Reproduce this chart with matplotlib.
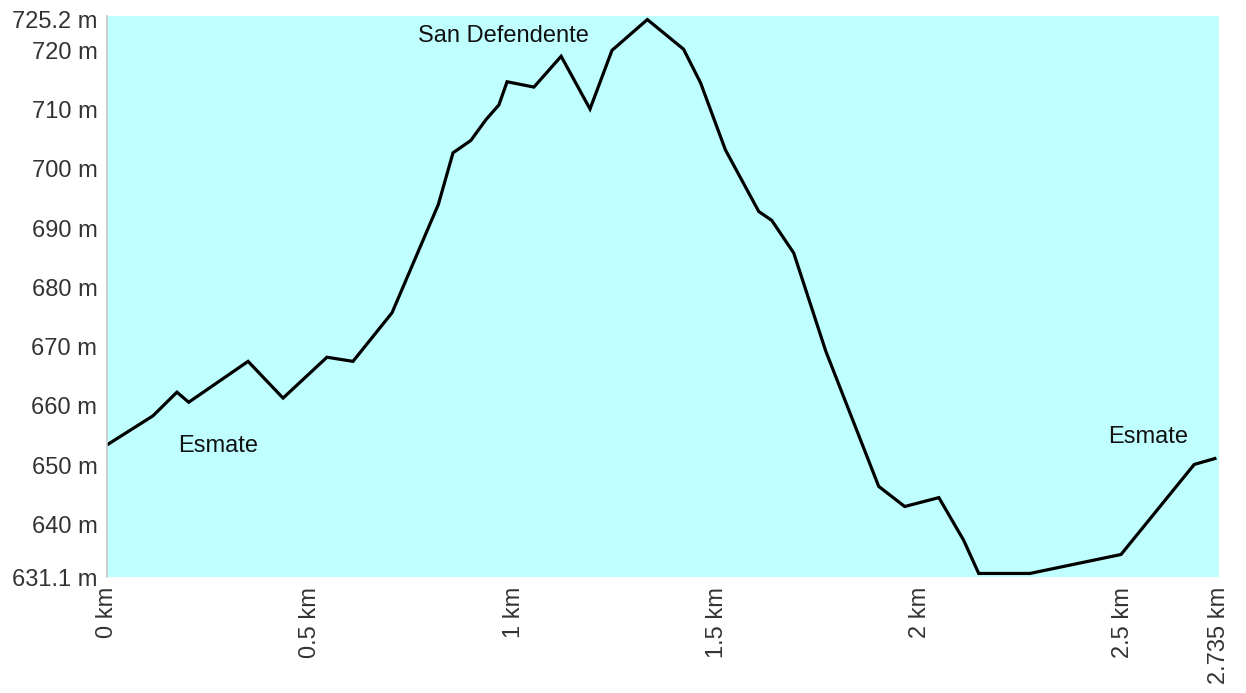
import matplotlib.pyplot as plt

plt.rcParams['font.family'] = ['Liberation Sans', 'DejaVu Sans']

distance_km = [0, 0.113, 0.172, 0.201, 0.347, 0.433, 0.541, 0.605, 0.701, 0.815, 0.851,
               0.895, 0.932, 0.964, 0.984, 1.050, 1.117, 1.188, 1.242, 1.329, 1.418,
               1.460, 1.521, 1.603, 1.635, 1.689, 1.768, 1.898, 1.962, 2.046, 2.107,
               2.144, 2.270, 2.494, 2.674, 2.725]
elevation_m = [653.4, 658.3, 662.3, 660.6, 667.5, 661.3, 668.2, 667.5, 675.7, 694.0, 702.7,
               704.8, 708.3, 710.8, 714.7, 713.8, 719.0, 710.1, 720.0, 725.2, 720.2,
               714.5, 703.2, 692.8, 691.3, 685.8, 669.2, 646.4, 643.0, 644.5, 637.3,
               631.7, 631.7, 634.9, 650.1, 651.1]

y_ticks = [631.1, 640, 650, 660, 670, 680, 690, 700, 710, 720, 725.2]
y_labels = ['631.1 m', '640 m', '650 m', '660 m', '670 m', '680 m', '690 m',
            '700 m', '710 m', '720 m', '725.2 m']
x_ticks = [0, 0.5, 1, 1.5, 2, 2.5, 2.735]
x_labels = ['0 km', '0.5 km', '1 km', '1.5 km', '2 km', '2.5 km', '2.735 km']

place_names = ['Esmate', 'San Defendente', 'Esmate']
place_x = [0.175, 0.765, 2.462]
place_y = [653.2, 722.4, 654.8]

fig = plt.figure(figsize=(12.46, 6.93), dpi=100)
ax = fig.add_axes([107 / 1246, 1 - 577 / 693, 1112 / 1246, 561 / 693])
ax.set_facecolor('#bfffff')

ax.plot(distance_km, elevation_m, color='black', lw=2.3, solid_joinstyle='miter')

for name, px, py in zip(place_names, place_x, place_y):
    ax.text(px, py, name, ha='left', va='center', fontsize=17, color='#111111')

ax.set_xlim(0, 2.735)
ax.set_ylim(631.1, 725.8)
ax.set_xticks(x_ticks)
ax.set_xticklabels(x_labels, rotation=90)
ax.set_yticks(y_ticks)
ax.set_yticklabels(y_labels)
ax.tick_params(length=0, labelsize=17, labelcolor='#333333', pad=7)

for s in ['top', 'right', 'bottom']:
    ax.spines[s].set_visible(False)
ax.spines['left'].set_color('#c8c8c8')
ax.spines['left'].set_linewidth(1.2)

fig.savefig('out.png', dpi=100)
